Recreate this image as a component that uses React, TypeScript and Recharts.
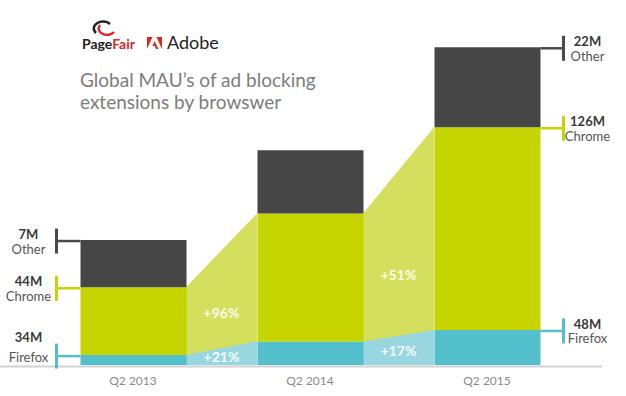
import React from 'react';
import {
  Area,
  Bar,
  ComposedChart,
  ReferenceDot,
  XAxis,
  YAxis,
} from 'recharts';

// bar heights as drawn in the picture (the infographic is not to scale)
const quarters = ['Q2 2013', 'Q2 2014', 'Q2 2015'];
const firefox = [6.5, 15.5, 23];
const chrome = [44.5, 84, 133];
const other = [31, 41.5, 52.5];

// printed annotations
const firefoxLabels = ['34M', '', '48M'];
const chromeLabels = ['44M', '', '126M'];
const otherLabels = ['7M', '', '22M'];
const chromeGrowth = ['+96%', '+51%'];
const firefoxGrowth = ['+21%', '+17%'];

const FONT = 'Lato, "Open Sans", sans-serif';
const BAR_SIZE = 106;
const BAND = 177;
const HALF = BAR_SIZE / 2 / BAND;

const colors = {
  firefox: '#52bfcb',
  chrome: '#c6d400',
  other: '#464646',
  flowGreen: '#d5df5e',
  flowTeal: '#99d7e0',
};

const barData = quarters.map((q, i) => ({
  quarter: q,
  firefox: firefox[i],
  chrome: chrome[i],
  other: other[i],
}));

// flows run from the right edge of one bar to the left edge of the next
const flowData: { x: number; ff: number | null; top: number | null }[] = [];
for (let i = 0; i < quarters.length - 1; i++) {
  if (i > 0) flowData.push({ x: i, ff: null, top: null });
  flowData.push({ x: i + HALF, ff: firefox[i], top: firefox[i] + chrome[i] });
  flowData.push({ x: i + 1 - HALF, ff: firefox[i + 1], top: firefox[i + 1] + chrome[i + 1] });
}

const bracket =
  (name: string, color: string, labels: string[]) => (p: any) => {
    const { x, y, width, index } = p;
    if (!labels[index]) return null;
    const left = index === 0;
    const lineY = y + 1;
    const edge = left ? x : x + width;
    const bx = left ? x - 24 : x + width + 23;
    const tx = left ? x - 52 : x + width + 47;
    let valueY = lineY - 2;
    let nameY = lineY + 12.5;
    if (left && name === 'Firefox') {
      valueY = lineY - 14;
      nameY = lineY + 5.5;
    }
    return (
      <g>
        <line x1={edge} x2={bx} y1={lineY} y2={lineY} stroke={color} strokeWidth={2.5} />
        <line x1={bx} x2={bx} y1={lineY - 12.5} y2={lineY + 12.5} stroke={color} strokeWidth={3} />
        <text x={tx} y={valueY} textAnchor="middle" fontFamily={FONT} fontSize={13} fontWeight="bold" fill="#3a3a3a">
          {labels[index]}
        </text>
        <text x={tx} y={nameY} textAnchor="middle" fontFamily={FONT} fontSize={13} fill="#555">
          {name}
        </text>
      </g>
    );
  };

const growthText = (label: string) => (p: any) => (
  <text
    x={p.cx}
    y={p.cy}
    textAnchor="middle"
    dominantBaseline="central"
    fontFamily={FONT}
    fontSize={14}
    fontWeight="bold"
    fill="#fff"
    fillOpacity={0.92}
  >
    {label}
  </text>
);

function Header() {
  return (
    <svg width={626} height={396} style={{ position: 'absolute', left: 0, top: 0 }}>
      {/* PageFair mark */}
      <path d="M96 33 A8 6 0 1 1 110 24" fill="none" stroke="#222" strokeWidth={2.5} />
      <path d="M100 25 A8 6 0 1 0 114 32" fill="none" stroke="#d9262b" strokeWidth={2.5} />
      <text x={82} y={49} fontFamily={FONT} fontSize={14} fontWeight="bold" fill="#222">
        Page<tspan fill="#d9262b">Fair</tspan>
      </text>
      {/* Adobe mark */}
      <polygon points="147,37 152.5,37 147,49" fill="#e1251b" />
      <polygon points="156.5,37 162,37 162,49" fill="#e1251b" />
      <polygon points="154.5,41 158.5,49 156,49 154.8,46 152.5,46" fill="#e1251b" />
      <text x={167} y={49} fontFamily={FONT} fontSize={18} fill="#222">
        Adobe
      </text>
      <text x={80} y={87} fontFamily={FONT} fontSize={19} fill="#7d7d7d">
        Global MAU’s of ad blocking
      </text>
      <text x={80} y={109} fontFamily={FONT} fontSize={19} fill="#7d7d7d">
        extensions by browswer
      </text>
      <line x1={0} x2={602} y1={366.5} y2={366.5} stroke="#d2d2d2" strokeWidth={2} />
    </svg>
  );
}

export default function App() {
  return (
    <div style={{ position: 'absolute', left: 0, top: 0, width: 626, height: 396, background: '#fff' }}>
      <Header />
      <div style={{ position: 'absolute', left: 0, top: 0 }}>
        <ComposedChart
          width={626}
          height={396}
          data={barData}
          margin={{ top: 45, right: 50.5, left: 44.5, bottom: 0 }}
        >
          <XAxis
            xAxisId="cat"
            dataKey="quarter"
            axisLine={false}
            tickLine={false}
            height={31}
            dy={3}
            tick={{ fill: '#8a8a8a', fontSize: 12, fontFamily: FONT }}
          />
          <XAxis
            xAxisId="num"
            dataKey="x"
            type="number"
            domain={[-0.5, 2.5]}
            allowDataOverflow
            hide
          />
          <YAxis hide domain={[0, 210]} allowDataOverflow />
          <Area
            xAxisId="num"
            data={flowData}
            dataKey="top"
            type="linear"
            stroke="none"
            fill={colors.flowGreen}
            fillOpacity={1}
            isAnimationActive={false}
          />
          <Area
            xAxisId="num"
            data={flowData}
            dataKey="ff"
            type="linear"
            stroke="none"
            fill={colors.flowTeal}
            fillOpacity={1}
            isAnimationActive={false}
          />
          <Bar
            xAxisId="cat"
            dataKey="firefox"
            stackId="s"
            fill={colors.firefox}
            barSize={BAR_SIZE}
            isAnimationActive={false}
            label={bracket('Firefox', colors.firefox, firefoxLabels)}
          />
          <Bar
            xAxisId="cat"
            dataKey="chrome"
            stackId="s"
            fill={colors.chrome}
            barSize={BAR_SIZE}
            isAnimationActive={false}
            label={bracket('Chrome', colors.chrome, chromeLabels)}
          />
          <Bar
            xAxisId="cat"
            dataKey="other"
            stackId="s"
            fill={colors.other}
            barSize={BAR_SIZE}
            isAnimationActive={false}
            label={bracket('Other', '#4a4a4a', otherLabels)}
          />
          {chromeGrowth.map((g, i) => {
            const ffMid = (firefox[i] + firefox[i + 1]) / 2;
            const topMid = (firefox[i] + chrome[i] + firefox[i + 1] + chrome[i + 1]) / 2;
            return (
              <ReferenceDot
                key={'c' + i}
                xAxisId="num"
                x={i + 0.5}
                y={ffMid + 0.37 * (topMid - ffMid)}
                r={0}
                shape={growthText(g)}
              />
            );
          })}
          {firefoxGrowth.map((g, i) => (
            <ReferenceDot
              key={'f' + i}
              xAxisId="num"
              x={i + 0.5}
              y={0.48 * ((firefox[i] + firefox[i + 1]) / 2)}
              r={0}
              shape={growthText(g)}
            />
          ))}
        </ComposedChart>
      </div>
    </div>
  );
}
